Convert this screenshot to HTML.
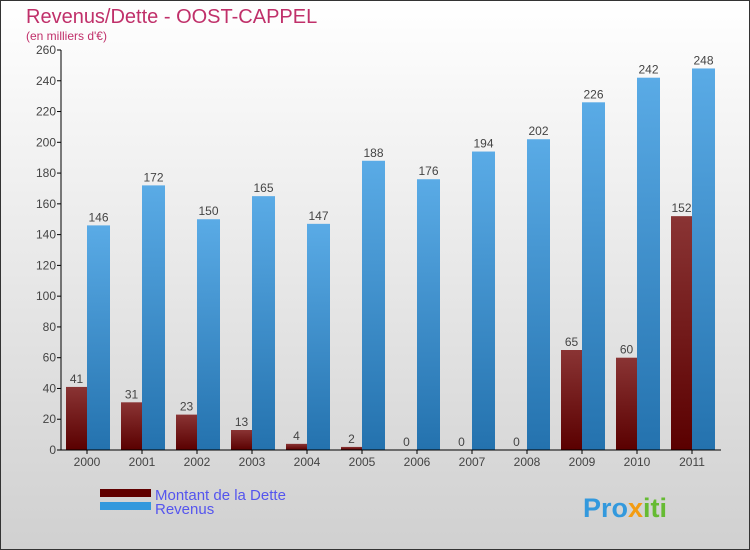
<!DOCTYPE html>
<html><head><meta charset="utf-8"><style>
body{margin:0}
svg{display:block;font-family:"Liberation Sans",sans-serif}
</style></head><body>
<svg width="750" height="550" id="c">
<defs>
<linearGradient id="bg" x1="0" y1="0" x2="0" y2="1"><stop offset="0" stop-color="#ffffff"/><stop offset="1" stop-color="#d0d0d0"/></linearGradient>
<linearGradient id="gd" x1="0" y1="0" x2="0" y2="1"><stop offset="0" stop-color="#8a3434"/><stop offset="1" stop-color="#5a0000"/></linearGradient>
<linearGradient id="gr" x1="0" y1="0" x2="0" y2="1"><stop offset="0" stop-color="#5aabe6"/><stop offset="1" stop-color="#2472ae"/></linearGradient>
</defs>
<rect x="0.5" y="0.5" width="749" height="549" fill="url(#bg)" stroke="#333"/>
<text x="26" y="23" font-size="20" fill="#c0306a">Revenus/Dette - OOST-CAPPEL</text>
<text x="26" y="40" font-size="12" fill="#c0306a">(en milliers d'€)</text>
<g id="plot"></g>
<rect x="100" y="489" width="51" height="8" fill="#600000"/>
<text x="155" y="500" font-size="15" fill="#5555ee">Montant de la Dette</text>
<rect x="100" y="502" width="51" height="8" fill="#3399dd"/>
<text x="155" y="514" font-size="15" fill="#5555ee">Revenus</text>
<text x="583" y="517" font-size="27" font-weight="bold" fill="#3399dd">Pro<tspan fill="#f39c12">x</tspan><tspan fill="#66bb33">iti</tspan></text>
</svg>
<script>
const years=["2000","2001","2002","2003","2004","2005","2006","2007","2008","2009","2010","2011"];
const dette=[41,31,23,13,4,2,0,0,0,65,60,152];
const revenus=[146,172,150,165,147,188,176,194,202,226,242,248];
const ticks=[0,20,40,60,80,100,120,140,160,180,200,220,240,260];
const NS="http://www.w3.org/2000/svg",g=document.getElementById("plot");
const x0=61,step=55,yb=450,ymax=260,ph=400;
const y=v=>yb-v/ymax*ph;
function mk(t,a,txt){const e=document.createElementNS(NS,t);for(const k in a)e.setAttribute(k,a[k]);if(txt!==undefined)e.textContent=txt;g.appendChild(e);return e;}
ticks.forEach(t=>{
 let l=mk("line",{x1:x0-4,x2:x0,y1:y(t),y2:y(t),stroke:"#000"});
 
 
 let tx=mk("text",{x:x0-5,y:y(t)+4,"font-size":12,fill:"#444","text-anchor":"end"},t);
 
 
});
years.forEach((yr,i)=>{
 const gx=x0+i*step;
 let b1=mk("rect",{x:gx+5,y:y(dette[i]),width:21,height:yb-y(dette[i]),fill:"url(#gd)"});
 
 
 let b2=mk("rect",{x:gx+26,y:y(revenus[i]),width:23,height:yb-y(revenus[i]),fill:"url(#gr)"});
 
 
 let v1=mk("text",{x:gx+15.5,y:y(dette[i])-4,"font-size":12,fill:"#444","text-anchor":"middle"},dette[i]);
 
 
 let v2=mk("text",{x:gx+37.5,y:y(revenus[i])-4,"font-size":12,fill:"#444","text-anchor":"middle"},revenus[i]);
 
 
 let tk=mk("line",{x1:gx+26,x2:gx+26,y1:yb,y2:yb+4,stroke:"#000"});
 
 
 let lb=mk("text",{x:gx+26,y:yb+16,"font-size":12,fill:"#444","text-anchor":"middle"},yr);
 
 
});
let ya=mk("line",{x1:x0,x2:x0,y1:y(260),y2:yb,stroke:"#000"});


let xa=mk("line",{x1:x0,x2:x0+12*step,y1:yb,y2:yb,stroke:"#000"});


</script>
</body></html>
